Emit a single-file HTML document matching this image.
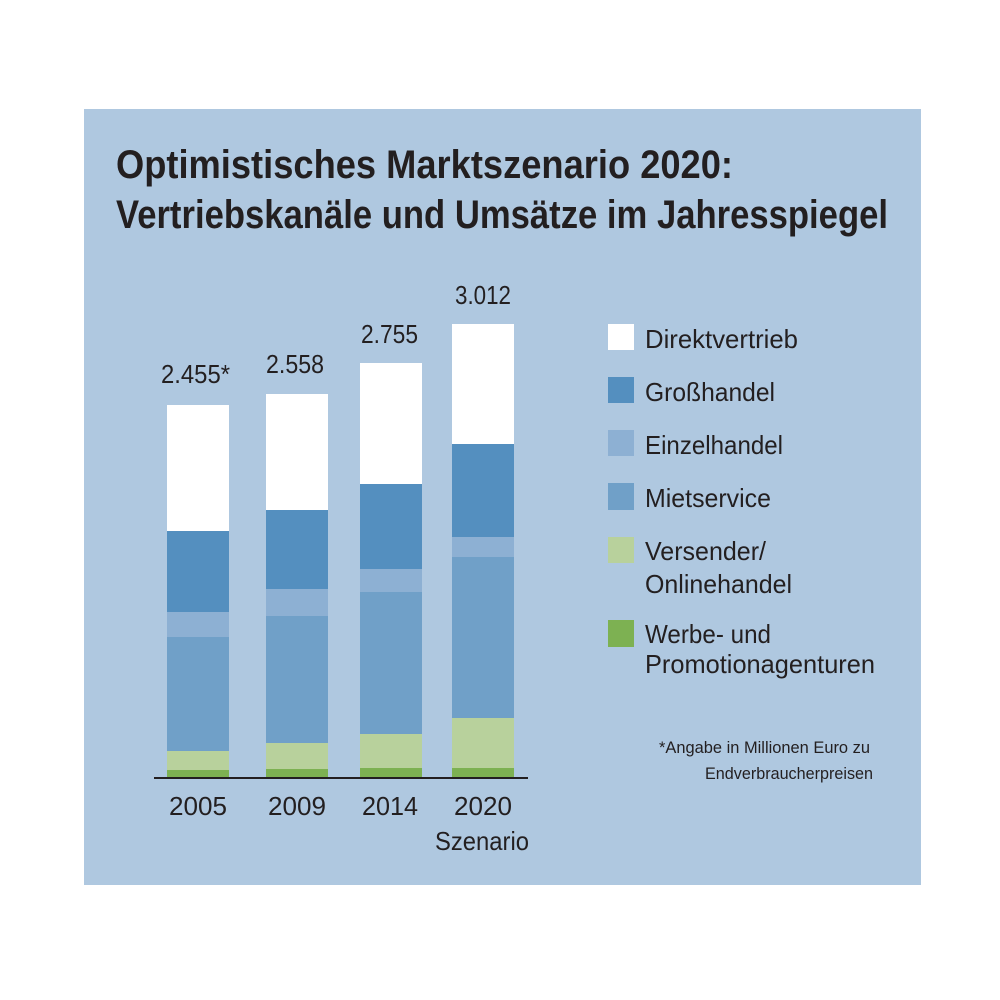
<!DOCTYPE html>
<html><head><meta charset="utf-8"><style>html,body{margin:0;padding:0;background:#fff}svg{display:block}</style></head><body>
<svg width="1000" height="1000" xmlns="http://www.w3.org/2000/svg" font-family="Liberation Sans, sans-serif" fill="#231f20">
<rect width="1000" height="1000" fill="#fff"/>
<rect x="84" y="109" width="837" height="776" fill="#afc8e0"/>
<text x="116" y="178" font-size="40" font-weight="bold" textLength="617" lengthAdjust="spacingAndGlyphs">Optimistisches Marktszenario 2020:</text>
<text x="116" y="228" font-size="40" font-weight="bold" textLength="772" lengthAdjust="spacingAndGlyphs">Vertriebskanäle und Umsätze im Jahresspiegel</text>
<g>
<rect x="167" y="405" width="62" height="126" fill="#fff"/>
<rect x="167" y="531" width="62" height="81" fill="#548fbf"/>
<rect x="167" y="612" width="62" height="25" fill="#8db0d3"/>
<rect x="167" y="637" width="62" height="114" fill="#70a0c8"/>
<rect x="167" y="751" width="62" height="19" fill="#b8d19c"/>
<rect x="167" y="770" width="62" height="8" fill="#7db152"/>

<rect x="266" y="394" width="62" height="116" fill="#fff"/>
<rect x="266" y="510" width="62" height="79" fill="#548fbf"/>
<rect x="266" y="589" width="62" height="27" fill="#8db0d3"/>
<rect x="266" y="616" width="62" height="127" fill="#70a0c8"/>
<rect x="266" y="743" width="62" height="26" fill="#b8d19c"/>
<rect x="266" y="769" width="62" height="9" fill="#7db152"/>

<rect x="360" y="363" width="62" height="121" fill="#fff"/>
<rect x="360" y="484" width="62" height="85" fill="#548fbf"/>
<rect x="360" y="569" width="62" height="23" fill="#8db0d3"/>
<rect x="360" y="592" width="62" height="142" fill="#70a0c8"/>
<rect x="360" y="734" width="62" height="34" fill="#b8d19c"/>
<rect x="360" y="768" width="62" height="10" fill="#7db152"/>

<rect x="452" y="324" width="62" height="120" fill="#fff"/>
<rect x="452" y="444" width="62" height="93" fill="#548fbf"/>
<rect x="452" y="537" width="62" height="20" fill="#8db0d3"/>
<rect x="452" y="557" width="62" height="161" fill="#70a0c8"/>
<rect x="452" y="718" width="62" height="50" fill="#b8d19c"/>
<rect x="452" y="768" width="62" height="10" fill="#7db152"/>
</g>
<rect x="154" y="777" width="374" height="2" fill="#231f20"/>
<g font-size="26">
<text x="161" y="383" textLength="69" lengthAdjust="spacingAndGlyphs">2.455*</text>
<text x="266" y="373" textLength="58" lengthAdjust="spacingAndGlyphs">2.558</text>
<text x="361" y="343" textLength="57" lengthAdjust="spacingAndGlyphs">2.755</text>
<text x="455" y="304" textLength="56" lengthAdjust="spacingAndGlyphs">3.012</text>
<text x="169" y="815" textLength="58" lengthAdjust="spacingAndGlyphs">2005</text>
<text x="268" y="815" textLength="58" lengthAdjust="spacingAndGlyphs">2009</text>
<text x="362" y="815" textLength="56" lengthAdjust="spacingAndGlyphs">2014</text>
<text x="454" y="815" textLength="58" lengthAdjust="spacingAndGlyphs">2020</text>
<text x="435" y="850" textLength="94" lengthAdjust="spacingAndGlyphs">Szenario</text>
</g>
<rect x="608" y="324" width="26" height="26" fill="#fff"/>
<rect x="608" y="377" width="26" height="26" fill="#548fbf"/>
<rect x="608" y="430" width="26" height="26" fill="#8db0d3"/>
<rect x="608" y="483" width="26" height="27" fill="#70a0c8"/>
<rect x="608" y="537" width="26" height="26" fill="#b8d19c"/>
<rect x="608" y="620" width="26" height="27" fill="#7db152"/>
<g font-size="26">
<text x="645" y="348" textLength="153" lengthAdjust="spacingAndGlyphs">Direktvertrieb</text>
<text x="645" y="401" textLength="130" lengthAdjust="spacingAndGlyphs">Großhandel</text>
<text x="645" y="454" textLength="138" lengthAdjust="spacingAndGlyphs">Einzelhandel</text>
<text x="645" y="507" textLength="126" lengthAdjust="spacingAndGlyphs">Mietservice</text>
<text x="645" y="560" textLength="121" lengthAdjust="spacingAndGlyphs">Versender/</text>
<text x="645" y="593" textLength="147" lengthAdjust="spacingAndGlyphs">Onlinehandel</text>
<text x="645" y="643" textLength="126" lengthAdjust="spacingAndGlyphs">Werbe- und</text>
<text x="645" y="673" textLength="230" lengthAdjust="spacingAndGlyphs">Promotionagenturen</text>
</g>
<g font-size="17">
<text x="659" y="753" textLength="211" lengthAdjust="spacingAndGlyphs">*Angabe in Millionen Euro zu</text>
<text x="705" y="779" textLength="168" lengthAdjust="spacingAndGlyphs">Endverbraucherpreisen</text>
</g>
</svg>
</body></html>
